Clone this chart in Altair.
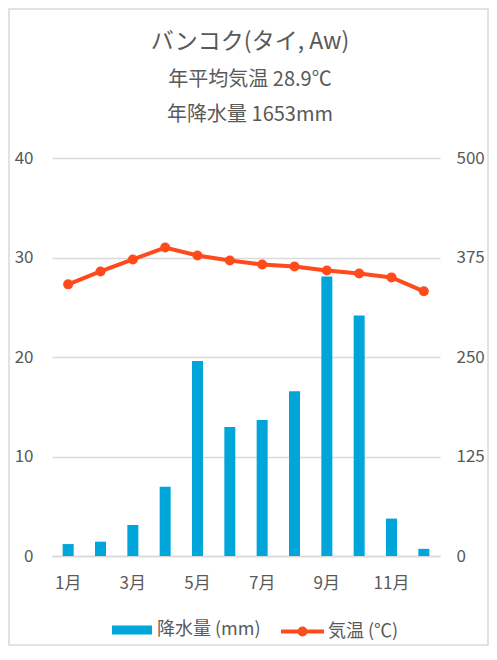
import altair as alt
import pandas as pd

months = ['1月', '2月', '3月', '4月', '5月', '6月', '7月', '8月', '9月', '10月', '11月', '12月']
temperature = [27.3, 28.6, 29.8, 31.0, 30.2, 29.7, 29.3, 29.1, 28.7, 28.4, 28.0, 26.6]
precipitation = [15, 18, 39, 87, 245, 162, 171, 207, 351, 302, 47, 9]
temp_ticks = [0, 10, 20, 30, 40]
prec_ticks = [0, 125, 250, 375, 500]
month_labels = ['1月', '3月', '5月', '7月', '9月', '11月']

df = pd.DataFrame({
    'month': months,
    'temp': temperature,
    'prec': precipitation,
    'tname': ['気温 (℃)'] * 12,
    'pname': ['降水量 (mm)'] * 12,
})

FONT = 'Noto Sans CJK JP'
GREY = '#595959'
BLUE = '#00A6DA'
RED = '#FF4A1C'

x_enc = alt.X('month:N', sort=months,
              scale=alt.Scale(paddingInner=0, paddingOuter=0),
              axis=alt.Axis(values=month_labels, labelAngle=0, title=None,
                            ticks=False, domainColor='#d9d9d9', domainWidth=1.5,
                            labelPadding=19, labelFontSize=17, labelColor=GREY,
                            labelFont=FONT))

base = alt.Chart(df)

bars = base.mark_bar(size=11).encode(
    x=x_enc,
    y=alt.Y('prec:Q', scale=alt.Scale(domain=[0, 500]),
            axis=alt.Axis(orient='right', values=prec_ticks, grid=False, title=None,
                          ticks=False, domain=False, labelPadding=16,
                          labelFontSize=17, labelColor=GREY, labelFont=FONT)),
    color=alt.Color('pname:N', scale=alt.Scale(range=[BLUE]),
                    legend=alt.Legend(orient='none', legendX=60, legendY=452,
                                      title=None,
                                      symbolType='M-1,-0.225L1,-0.225L1,0.225L-1,0.225Z',
                                      symbolSize=1600, symbolStrokeWidth=0,
                                      labelFontSize=18, labelColor=GREY, labelFont=FONT,
                                      labelOffset=5)),
)

temp_y = alt.Y('temp:Q', scale=alt.Scale(domain=[0, 40]),
               axis=alt.Axis(orient='left', values=temp_ticks, grid=True, gridColor='#d9d9d9',
                             gridWidth=1.5, title=None, ticks=False, domain=False,
                             labelPadding=19, labelFontSize=17, labelColor=GREY,
                             labelFont=FONT))

line = base.mark_line(strokeWidth=4, color=RED).encode(x=x_enc, y=temp_y)

points = base.mark_point(filled=True, size=100, opacity=1).encode(
    x=x_enc,
    y=temp_y,
    color=alt.Color('tname:N', scale=alt.Scale(range=[RED]),
                    legend=alt.Legend(orient='none', legendX=229, legendY=452,
                                      title=None,
                                      symbolType='M-1,-0.09L1,-0.09L1,0.09L-1,0.09Z M0.23,0 A0.23,0.23 0 1,1 -0.23,0 A0.23,0.23 0 1,1 0.23,0 Z',
                                      symbolSize=1849, symbolStrokeWidth=0,
                                      symbolOpacity=1,
                                      labelFontSize=18, labelColor=GREY, labelFont=FONT,
                                      labelOffset=4)),
)

frame = alt.Chart(pd.DataFrame({'k': [0]})).mark_rect(
    fillOpacity=0, stroke='#d9d9d9', strokeWidth=1.5
).encode(x=alt.value(-43), x2=alt.value(436), y=alt.value(-149), y2=alt.value(487))

temp_layer = alt.layer(line, points)

chart = alt.layer(frame, bars, temp_layer).resolve_scale(
    y='independent', color='independent'
).properties(
    width=388, height=398,
    padding={'left': 44, 'top': 150, 'right': 49, 'bottom': 90},
    autosize=alt.AutoSizeParams(type='none'),
    title=alt.Title(text='バンコク(タイ, Aw)',
                    subtitle=['年平均気温 28.9℃', '年降水量 1653mm'],
                    anchor='middle', frame='group', font=FONT, fontSize=23,
                    fontWeight='normal', color=GREY, subtitleFont=FONT,
                    subtitleFontSize=20, subtitleColor=GREY, subtitleLineHeight=35,
                    subtitlePadding=16, offset=-117, dx=4),
).configure_view(stroke=None)

chart.save('out.html', embed_options={'renderer': 'svg', 'actions': False})
